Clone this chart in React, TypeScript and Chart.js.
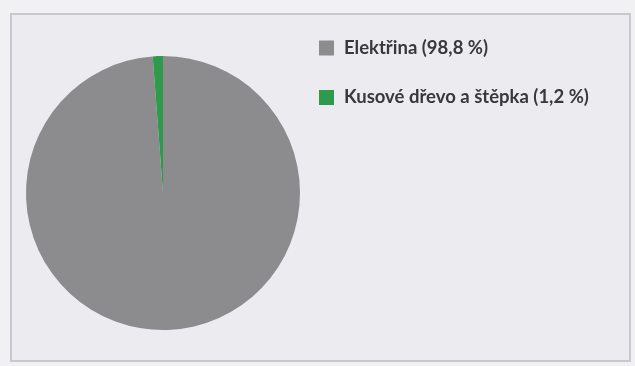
import React, { useEffect, useRef } from "react";
import { Chart, registerables } from "chart.js";

Chart.register(...registerables);

const categories = ["Elektřina (98,8 %)", "Kusové dřevo a štěpka (1,2 %)"];
const shares = [98.8, 1.2];
const colors = ["#8c8c8e", "#2f9a4c"];

const legendPlugin = {
  id: "sideLegend",
  afterDraw(chart: any) {
    const ctx = chart.ctx;
    const labels = chart.data.labels as string[];
    const bg = chart.data.datasets[0].backgroundColor as string[];
    ctx.save();
    ctx.font = "bold 18.5px Lato";
    ctx.textBaseline = "middle";
    labels.forEach((lab, i) => {
      const y = 48 + i * 49.5;
      ctx.fillStyle = bg[i];
      ctx.fillRect(319, y - 7.5, 15, 15);
      ctx.fillStyle = "#38383a";
      ctx.fillText(lab, 344, y);
    });
    ctx.restore();
  },
};

export default function App() {
  const ref = useRef<HTMLCanvasElement>(null);
  useEffect(() => {
    if (!ref.current) return;
    const chart = new Chart(ref.current, {
      type: "pie",
      data: {
        labels: categories,
        datasets: [
          {
            data: shares,
            backgroundColor: colors,
            borderWidth: 0,
          },
        ],
      },
      options: {
        animation: false,
        responsive: false,
        layout: { padding: { left: 26, right: 335, top: 56, bottom: 36 } },
        plugins: {
          legend: { display: false },
          tooltip: { enabled: false },
        },
      },
      plugins: [legendPlugin],
    });
    return () => chart.destroy();
  }, []);
  return (
    <div
      style={{
        position: "fixed",
        left: 0,
        top: 0,
        width: 635,
        height: 366,
        background: "#f1f1f3",
        overflow: "hidden",
      }}
    >
      <div
        style={{
          position: "absolute",
          left: 10,
          top: 13,
          width: 617,
          height: 345,
          border: "2px solid #c9c9cd",
          background: "#ececf0",
        }}
      />
      <canvas
        ref={ref}
        width={635}
        height={366}
        style={{ position: "absolute", left: 0, top: 0 }}
      />
    </div>
  );
}
